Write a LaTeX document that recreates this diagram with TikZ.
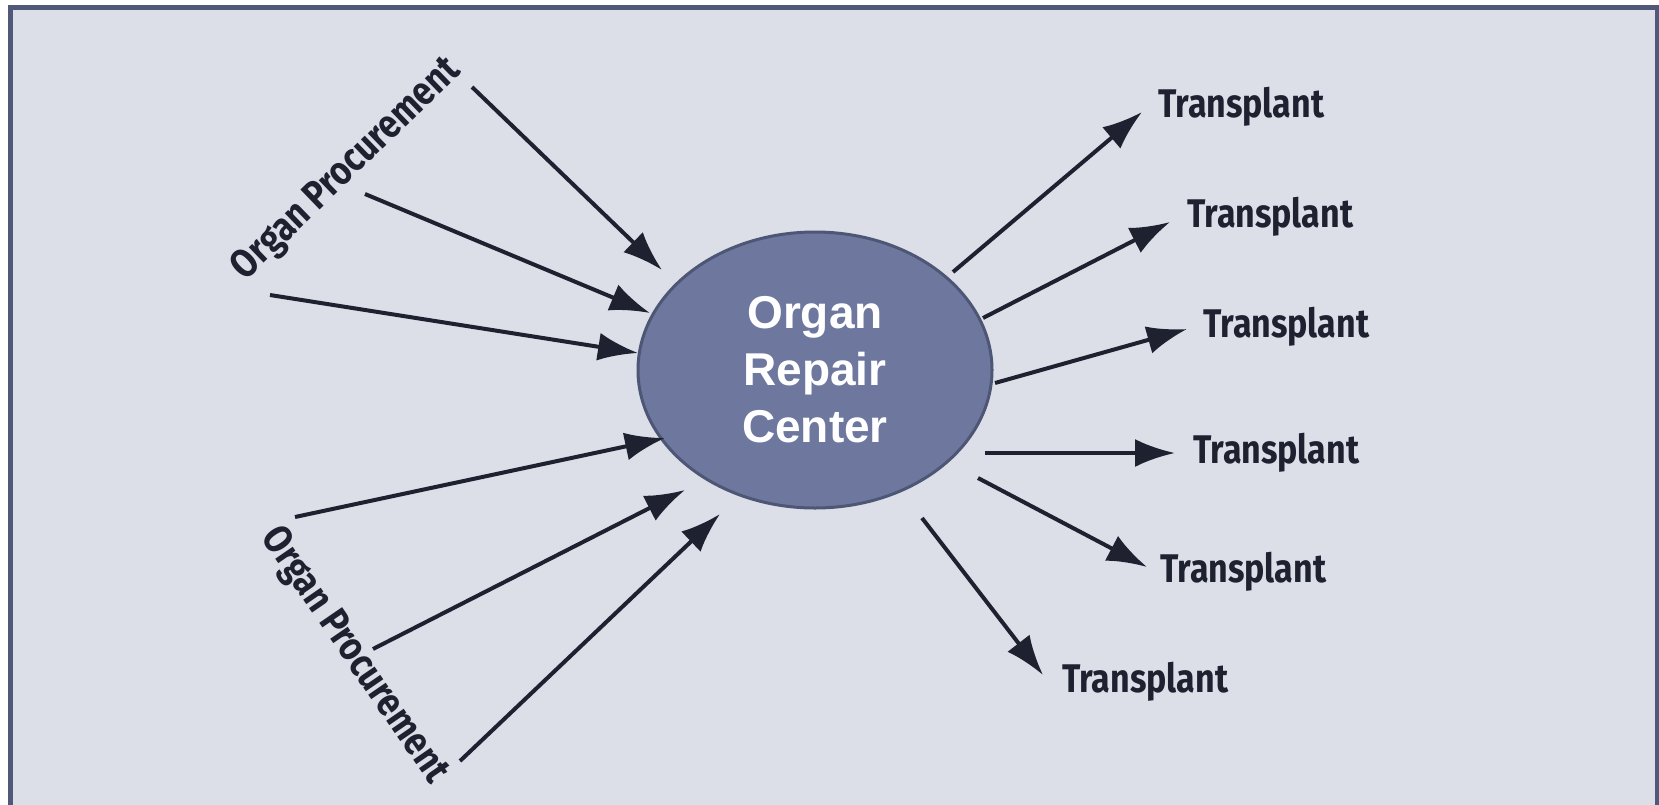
\documentclass[tikz,border=0pt]{standalone}
\usepackage{fontspec}
\setmainfont{Liberation Sans}
\newfontfamily\condfont[FakeStretch=0.85]{Fira Sans}
\usetikzlibrary{arrows.meta,shapes.geometric}
\definecolor{ORCframe}{HTML}{50597A}
\definecolor{ORCbg}{HTML}{DCDFE8}
\definecolor{ORChub}{HTML}{6E789F}
\definecolor{ORChubline}{HTML}{4E5676}
\definecolor{ORCink}{HTML}{1E2230}
\tikzset{
  hubnode/.style={ellipse, draw=ORChubline, line width=3pt, fill=ORChub, minimum width=354pt, minimum height=276pt, align=center, text=white, font=\fontsize{46}{57}\selectfont\bfseries, inner sep=0pt},
  outlabel/.style={font=\condfont\fontsize{40}{40}\selectfont\bfseries, text=ORCink, inner sep=0pt},
  flowarr/.style={-{Latex[length=40pt, width=28pt]}, line width=4pt, draw=ORCink}
}

\begin{document}
\begin{tikzpicture}[x=1pt, y=-1pt]
\useasboundingbox (0,0) rectangle (1659,804);
\draw[ORCframe, line width=5pt, fill=ORCbg] (10.5,7.5) rectangle (1657,830);
\node[hubnode] (hub) at (815,370) {Organ\\Repair\\Center};
% procurement side
\node[outlabel, rotate=44] (procA) at (347,170) {Organ Procurement};
\node[outlabel, rotate=-55.5] (procB) at (354,656) {Organ Procurement};
\coordinate (inA1) at (472,87);   \coordinate (hubA1) at (662,270);
\coordinate (inA2) at (365,194);  \coordinate (hubA2) at (650,313);
\coordinate (inA3) at (270,295);  \coordinate (hubA3) at (638,353);
\coordinate (inB1) at (295,517);  \coordinate (hubB1) at (665,438);
\coordinate (inB2) at (373,649);  \coordinate (hubB2) at (685,490);
\coordinate (inB3) at (460,761);  \coordinate (hubB3) at (720,514);
\draw[flowarr] (inA1) -- (hubA1);
\draw[flowarr] (inA2) -- (hubA2);
\draw[flowarr] (inA3) -- (hubA3);
\draw[flowarr] (inB1) -- (hubB1);
\draw[flowarr] (inB2) -- (hubB2);
\draw[flowarr] (inB3) -- (hubB3);
% transplant side
\node[outlabel, anchor=base west] (tx1) at (1158,117) {Transplant};
\node[outlabel, anchor=base west] (tx2) at (1187,227) {Transplant};
\node[outlabel, anchor=base west] (tx3) at (1203,337) {Transplant};
\node[outlabel, anchor=base west] (tx4) at (1193,463) {Transplant};
\node[outlabel, anchor=base west] (tx5) at (1160,582) {Transplant};
\node[outlabel, anchor=base west] (tx6) at (1062,692) {Transplant};
\coordinate (out1) at (953,272);  \coordinate (end1) at (1142,112);
\coordinate (out2) at (983,318);  \coordinate (end2) at (1170,222);
\coordinate (out3) at (995,383);  \coordinate (end3) at (1187,329);
\coordinate (out4) at (985,453);  \coordinate (end4) at (1175,453);
\coordinate (out5) at (978,478);  \coordinate (end5) at (1147,567);
\coordinate (out6) at (922,518);  \coordinate (end6) at (1043,675);
\draw[flowarr] (out1) -- (end1);
\draw[flowarr] (out2) -- (end2);
\draw[flowarr] (out3) -- (end3);
\draw[flowarr] (out4) -- (end4);
\draw[flowarr] (out5) -- (end5);
\draw[flowarr] (out6) -- (end6);
\end{tikzpicture}
\end{document}
